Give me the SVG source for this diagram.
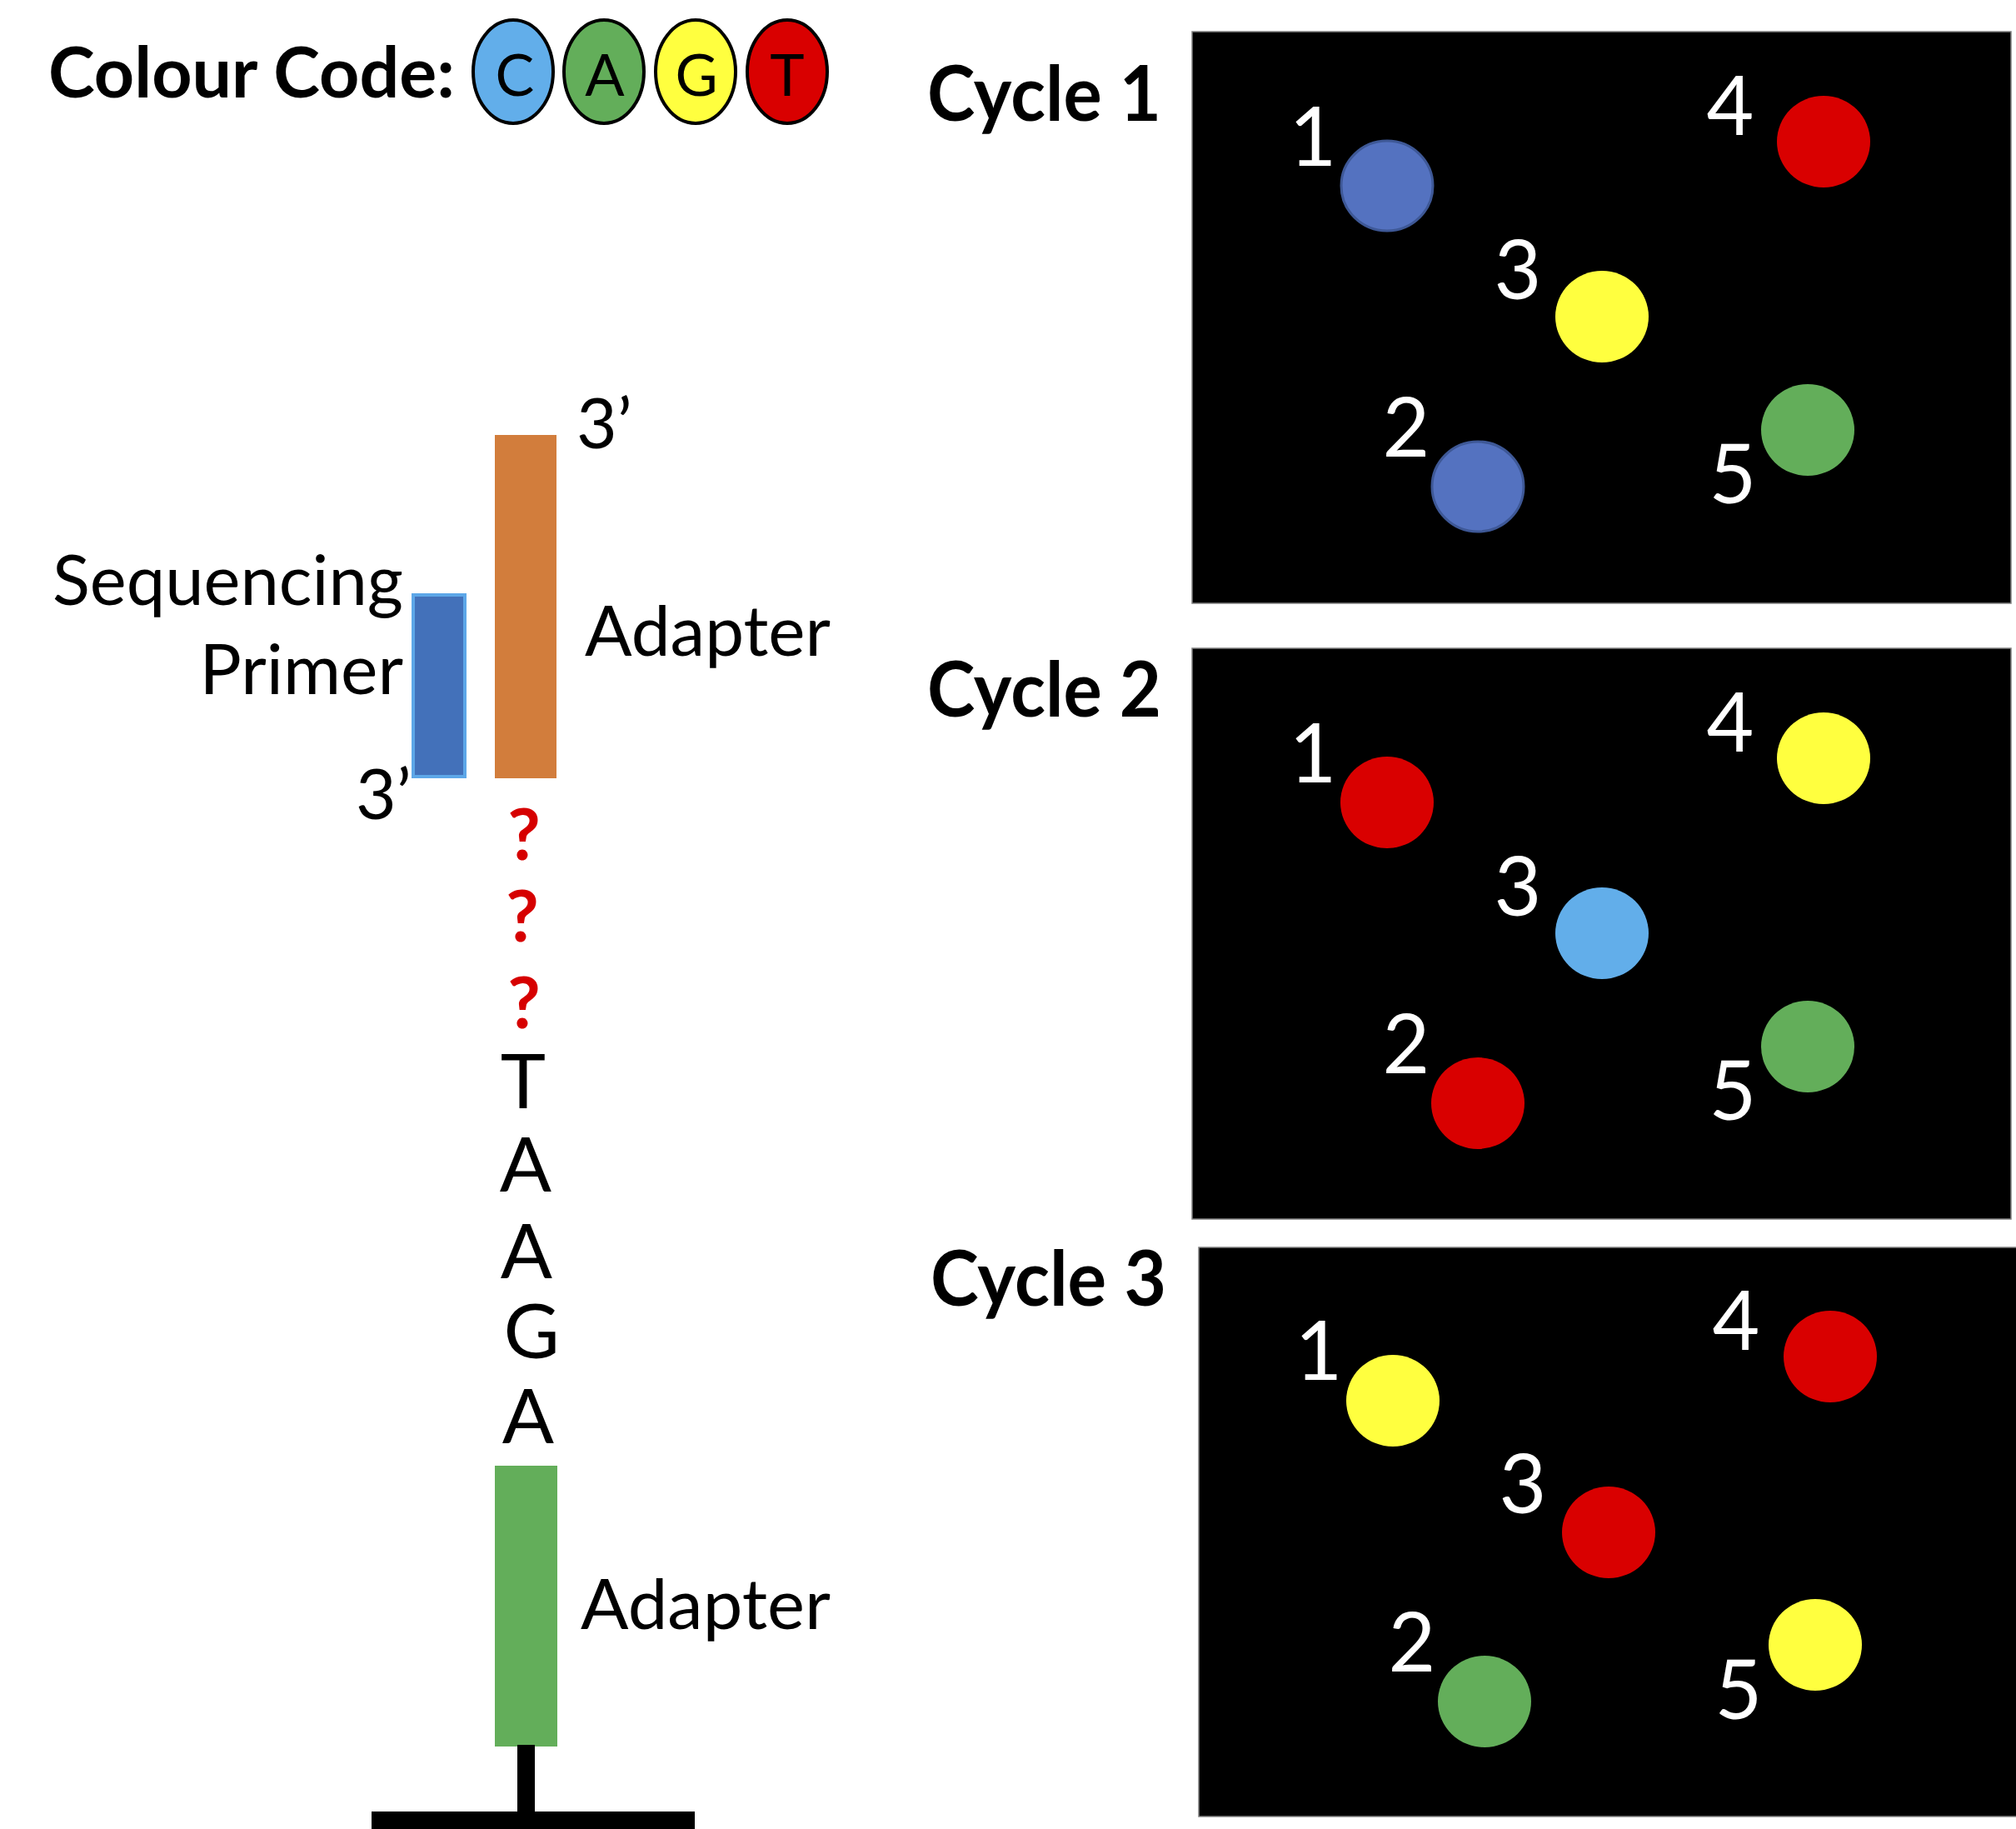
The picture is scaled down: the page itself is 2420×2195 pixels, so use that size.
<svg xmlns="http://www.w3.org/2000/svg" width="2420" height="2195" viewBox="0 0 2420 2195">
<style>
.t{font-family:Lato,"Open Sans","Liberation Sans",sans-serif;}
.b{font-weight:bold;}
.lab{font-size:84px;fill:#000;}
.seq{font-size:92px;fill:#000;text-anchor:middle;}
.q{font-size:86px;fill:#D60000;text-anchor:middle;font-weight:bold;}
.num{font-size:98px;fill:#fff;text-anchor:middle;}
.cyc{font-size:92px;fill:#000;font-weight:bold;}
.key{stroke:#000;stroke-width:4;}
.kl{font-size:70px;fill:#000;text-anchor:middle;}
.panel{fill:#000;stroke:#808080;stroke-width:1.5;}
.red{fill:#D90000;}
.yel{fill:#FFFF3F;}
.grn{fill:#63AE5A;}
.lbl{fill:#62AEEA;}
.dbl{fill:#5472C0;stroke:#3E5896;stroke-width:3;}
</style>

<g id="colour-code">
<text class="t b" x="58" y="117" font-size="84" textLength="488" lengthAdjust="spacingAndGlyphs">Colour Code:</text>
<ellipse class="key lbl" cx="616" cy="86" rx="48" ry="62"/>
<ellipse class="key grn" cx="725" cy="86" rx="48" ry="62"/>
<ellipse class="key yel" cx="835" cy="86" rx="48" ry="62"/>
<ellipse class="key red" cx="945" cy="86" rx="48" ry="62"/>
<text class="t kl" x="618" y="115">C</text>
<text class="t kl" x="726" y="115">A</text>
<text class="t kl" x="836" y="115">G</text>
<text class="t kl" x="945" y="115">T</text>
</g>

<g id="template">
<rect id="adapter-top" x="594" y="522" width="74" height="412" fill="#D27D3C"/>
<rect id="primer" x="496" y="714" width="62" height="218" fill="#4371BA" stroke="#5DA7E8" stroke-width="4"/>
<rect id="adapter-bottom" x="594" y="1759" width="75" height="337" fill="#63AE5A"/>
<rect x="621" y="2094" width="21" height="82" fill="#000"/>
<rect x="446" y="2174" width="388" height="21" fill="#000"/>
<text class="t lab" x="692" y="538">3’</text>
<text class="t lab" x="484" y="726" text-anchor="end" textLength="421" lengthAdjust="spacingAndGlyphs">Sequencing</text>
<text class="t lab" x="484" y="833" text-anchor="end">Primer</text>
<text class="t lab" x="702" y="787" textLength="295" lengthAdjust="spacingAndGlyphs">Adapter</text>
<text class="t lab" x="427" y="983">3’</text>
<text class="t q" x="629" y="1032">?</text>
<text class="t q" x="627" y="1130">?</text>
<text class="t q" x="629" y="1234">?</text>
<text class="t seq" x="628" y="1330">T</text>
<text class="t seq" x="631" y="1430">A</text>
<text class="t seq" x="632" y="1534">A</text>
<text class="t seq" x="638" y="1630">G</text>
<text class="t seq" x="634" y="1732">A</text>
<text class="t lab" x="697" y="1955" textLength="300" lengthAdjust="spacingAndGlyphs">Adapter</text>
</g>

<g id="cycle1">
<text class="t cyc" x="1113" y="145" textLength="281" lengthAdjust="spacingAndGlyphs">Cycle 1</text>
<rect class="panel" x="1431" y="38" width="983" height="686"/>
<ellipse class="dbl" cx="1665" cy="223" rx="55" ry="54"/>
<ellipse class="dbl" cx="1774" cy="584" rx="55" ry="54"/>
<ellipse class="yel" cx="1923" cy="380" rx="56" ry="55"/>
<ellipse class="red" cx="2189" cy="170" rx="56" ry="55"/>
<ellipse class="grn" cx="2170" cy="516" rx="56" ry="55"/>
<text class="t num" x="1576" y="199">1</text>
<text class="t num" x="1688" y="548">2</text>
<text class="t num" x="1822" y="359">3</text>
<text class="t num" x="2077" y="162">4</text>
<text class="t num" x="2080" y="604">5</text>
</g>

<g id="cycle2">
<text class="t cyc" x="1113" y="860" textLength="281" lengthAdjust="spacingAndGlyphs">Cycle 2</text>
<rect class="panel" x="1431" y="778" width="983" height="685"/>
<ellipse class="red" cx="1665" cy="963" rx="56" ry="55"/>
<ellipse class="red" cx="1774" cy="1324" rx="56" ry="55"/>
<ellipse class="lbl" cx="1923" cy="1120" rx="56" ry="55"/>
<ellipse class="yel" cx="2189" cy="910" rx="56" ry="55"/>
<ellipse class="grn" cx="2170" cy="1256" rx="56" ry="55"/>
<text class="t num" x="1576" y="939">1</text>
<text class="t num" x="1688" y="1288">2</text>
<text class="t num" x="1822" y="1099">3</text>
<text class="t num" x="2077" y="902">4</text>
<text class="t num" x="2080" y="1344">5</text>
</g>

<g id="cycle3">
<text class="t cyc" x="1117" y="1567" textLength="283" lengthAdjust="spacingAndGlyphs">Cycle 3</text>
<rect class="panel" x="1439" y="1497" width="990" height="683"/>
<ellipse class="yel" cx="1672" cy="1681" rx="56" ry="55"/>
<ellipse class="grn" cx="1782" cy="2042" rx="56" ry="55"/>
<ellipse class="red" cx="1931" cy="1839" rx="56" ry="55"/>
<ellipse class="red" cx="2197" cy="1628" rx="56" ry="55"/>
<ellipse class="yel" cx="2179" cy="1974" rx="56" ry="55"/>
<text class="t num" x="1583" y="1656">1</text>
<text class="t num" x="1695" y="2006">2</text>
<text class="t num" x="1828" y="1816">3</text>
<text class="t num" x="2084" y="1620">4</text>
<text class="t num" x="2087" y="2063">5</text>
</g>

<g id="connectors"></g>
</svg>
